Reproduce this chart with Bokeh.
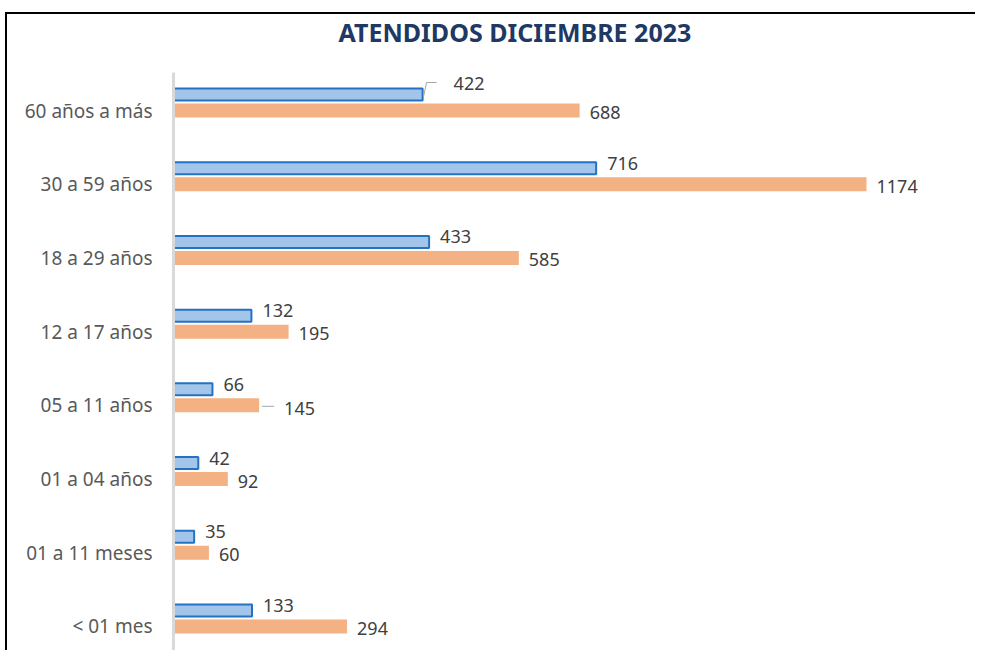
from bokeh.plotting import figure
from bokeh.models import Range1d, FixedTicker, ColumnDataSource, Title
from bokeh.core.properties import value
from bokeh.embed import file_html
from bokeh.resources import INLINE

# ---- data ----
categories = ["60 años a más", "30 a 59 años", "18 a 29 años", "12 a 17 años",
              "05 a 11 años", "01 a 04 años", "01 a 11 meses", "< 01 mes"]
blue_vals = [422, 716, 433, 132, 66, 42, 35, 133]
orange_vals = [688, 1174, 585, 195, 145, 92, 60, 294]
title_text = "ATENDIDOS DICIEMBRE 2023"

# ---- layout constants (pixels) ----
W, H = 970, 638
MB_LEFT, MB_TOP = 166, 58
frame_w = W - MB_LEFT
frame_h = H - MB_TOP
PX_X = 0.5903          # px per unit on x
BAND = 73.71           # px per category
n = len(categories)
pos = [n - 1 - k for k in range(n)]

x_end = frame_w / PX_X
y_top = n - 1 + 38 / BAND
y_bot = y_top - frame_h / BAND

blue_shift = 16 / BAND
blue_pos = [p_ + blue_shift for p_ in pos]

p = figure(width=W, height=H, output_backend="svg", toolbar_location=None,
           x_range=Range1d(0, x_end), y_range=Range1d(y_bot, y_top),
           min_border_left=MB_LEFT, min_border_top=MB_TOP,
           min_border_right=0, min_border_bottom=0,
           styles={"border-top": "2px solid #000", "border-left": "2px solid #000",
                   "margin-top": "12px", "margin-left": "5px"})
p.outline_line_color = None
p.grid.visible = False
p.xaxis.visible = False
p.background_fill_color = "white"
p.border_fill_color = "white"

p.title.text = title_text
p.title.align = "left"
p.title.offset = 165
p.title.standoff = 0
p.title.vertical_align = "top"
p.title.text_font = "Noto Sans"
p.title.text_font_style = "bold"
p.title.text_font_size = "25px"
p.title.text_color = "#203864"

# empty spacer between title and plot area
p.add_layout(Title(text=" ", text_font_size="1px", standoff=19), "above")

p.hbar(y=pos, right=orange_vals, left=0, height=14 / BAND,
       fill_color="#F4B183", line_color=None)
p.hbar(y=blue_pos, right=blue_vals, left=0, height=12 / BAND,
       fill_color="#A3C5EA", line_color="#2472C4", line_width=2)

yax = p.yaxis[0]
yax.ticker = FixedTicker(ticks=pos)
yax.major_label_overrides = {p_: c for p_, c in zip(pos, categories)}
yax.axis_line_color = "#D9D9D9"
yax.axis_line_width = 3
yax.major_tick_line_color = None
yax.minor_tick_line_color = None
yax.major_label_standoff = 15
yax.major_label_text_font = "Noto Sans"
yax.major_label_text_font_size = "19px"
yax.major_label_text_color = "#595959"

# data labels
moved = {("b", 0): (31, -11), ("o", 4): (25, 3)}
bx, by, bt, bxo, byo = [], [], [], [], []
for k in range(n):
    dx, dy = moved.get(("b", k), (11, -5))
    bx.append(blue_vals[k]); by.append(blue_pos[k]); bt.append(str(blue_vals[k]))
    bxo.append(dx); byo.append(dy)
for k in range(n):
    dx, dy = moved.get(("o", k), (10, 2))
    bx.append(orange_vals[k]); by.append(pos[k]); bt.append(str(orange_vals[k]))
    bxo.append(dx); byo.append(dy)
lab_src = ColumnDataSource(dict(x=bx, y=by, text=bt, xo=bxo, yo=byo))
p.text(x="x", y="y", text="text", x_offset="xo", y_offset="yo", source=lab_src,
       text_font=value("Noto Sans"), text_font_size="18px", text_color="#404040",
       text_baseline="middle", text_align="left")

# leader lines for moved labels
def px2x(px):
    return px / PX_X

def px2y(px):
    return -px / BAND

v0 = blue_vals[0]
c0 = blue_pos[0]
v1 = orange_vals[4]
c1 = pos[4]
p.multi_line(xs=[[v0 + px2x(1), v0 + px2x(4), v0 + px2x(14)],
                 [v1 + px2x(3), v1 + px2x(15)]],
             ys=[[c0 + px2y(2), c0 + px2y(-12), c0 + px2y(-12)],
                 [c1 + px2y(1), c1 + px2y(1)]],
             line_color="#A6A6A6", line_width=1)

open("out.html", "w").write(file_html(p, INLINE))
